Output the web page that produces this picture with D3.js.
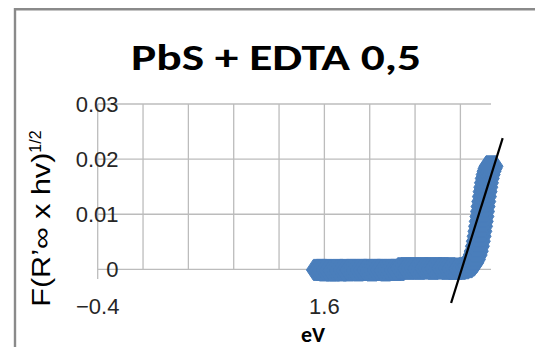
<!DOCTYPE html>
<html>
<head>
<meta charset="utf-8">
<script src="https://cdn.jsdelivr.net/npm/d3@7"></script>
<style>
body{margin:0;background:#fff;}
svg{display:block;}
</style>
</head>
<body>
<div id="chart"></div>
<script>

//width and height
var w = 535;
var h = 347;

// photon energy (eV) and F(R'inf x hv)^1/2
var eV = [1.547,1.575,1.60,1.63,1.66,1.69,1.72,1.75,1.78,1.81,1.84,1.87,1.90,1.93,1.96,
          1.99,2.02,2.05,2.08,2.11,2.14,2.17,2.20,2.23,2.26,2.29,2.32,2.35,2.38,2.41,
          2.44,2.47,2.50,2.53,2.56,2.59,2.62,2.65,2.68,2.71,2.74,2.77,2.80,2.83,
          2.86,2.88,2.90,2.915,2.93,2.94,2.95,2.958,2.965,2.972,2.978,2.984,2.99,2.995,
          3.00,3.006,3.012,3.018,3.024,3.03,3.037,3.045,3.053,3.062,3.07];
var fr = [-0.0001,-0.0001,-0.0002,-0.0001,-0.0002,-0.0002,-0.0001,-0.0002,-0.0001,-0.0002,-0.0001,-0.0001,-0.0002,-0.0001,-0.0001,
          -0.0001,-0.0002,-0.0001,-0.0001,-0.0001,-0.0002,-0.0001,-0.0001,-0.0001,-0.0001,0.0002,0.0002,0.0001,0.0002,0.0002,
          0.0001,0.0002,0.0002,0.0002,0.0001,0.0002,0.0002,0.0002,0.0001,0.0002,0.0001,0.0001,0.0001,0.0002,
          0.0004,0.0007,0.0012,0.0018,0.0026,0.0033,0.0042,0.0051,0.0060,0.0069,0.0078,0.0087,0.0096,0.0105,
          0.0114,0.0123,0.0132,0.0141,0.0149,0.0157,0.0165,0.0172,0.0178,0.0183,0.0187];

// tangent drawn by hand on the plot
var fitX = [2.718, 3.173];
var fitY = [-0.0061, 0.0238];

var yTicks = [0, 0.01, 0.02, 0.03];
var xGrid = [-0.4, 0, 0.4, 0.8, 1.2, 1.6, 2.0, 2.4, 2.8];
var xLabels = [-0.4, 1.6];

var x = d3.scaleLinear()
            .domain([-0.4, 3.07])
            .range([97.7, 491]);

var y = d3.scaleLinear()
            .domain([-0.00175, 0.03])
            .range([279, 104]);

var svg = d3.select("#chart")
            .append("svg")
            .attr("width",w)
            .attr("height",h);

// chart border (only top and left show)
svg.append("path")
    .attr("d","M15,347 L15,9.2 L535,9.2")
    .attr("fill","none")
    .attr("stroke","#8a8a8a")
    .attr("stroke-width",2.4);

// gridlines
svg.selectAll(".hgrid")
    .data(yTicks)
    .enter()
    .append("line")
    .attr("x1",x(-0.4))
    .attr("x2",x(3.07))
    .attr("y1",function(d){ return y(d); })
    .attr("y2",function(d){ return y(d); })
    .attr("stroke","#bcbcbc")
    .attr("stroke-width",1.3);

svg.selectAll(".vgrid")
    .data(xGrid.slice(1))
    .enter()
    .append("line")
    .attr("x1",function(d){ return x(d); })
    .attr("x2",function(d){ return x(d); })
    .attr("y1",y(0.03))
    .attr("y2",y(0))
    .attr("stroke","#bcbcbc")
    .attr("stroke-width",1.3);

// y axis line
svg.append("line")
    .attr("x1",x(-0.4))
    .attr("x2",x(-0.4))
    .attr("y1",y(0.03))
    .attr("y2",y(-0.00175))
    .attr("stroke","#bcbcbc")
    .attr("stroke-width",1.3);

// y tick labels
svg.selectAll(".ylab")
    .data(yTicks)
    .enter()
    .append("text")
    .attr("x",118.5)
    .attr("y",function(d){ return y(d) + 7.8; })
    .attr("text-anchor","end")
    .attr("font-family","'Liberation Sans', Arial, sans-serif")
    .attr("font-size",22)
    .attr("fill","#262626")
    .text(function(d){ return d === 0 ? "0" : d3.format(".2f")(d); });

// x tick labels
svg.selectAll(".xlab")
    .data(xLabels)
    .enter()
    .append("text")
    .attr("x",function(d){ return x(d); })
    .attr("y",314)
    .attr("text-anchor","middle")
    .attr("font-family","'Liberation Sans', Arial, sans-serif")
    .attr("font-size",22)
    .attr("fill","#262626")
    .text(function(d){ return d3.format(".1f")(d); });

// data points: flat-topped pointed markers so the dense series reads as a smooth band
var pts = eV.map(function(d,i){ return [d, fr[i]]; });
var marker = "M-12,0 L-5,-10.5 L5,-10.5 L12,0 L5,10.5 L-5,10.5 Z";

svg.selectAll(".pt")
    .data(pts)
    .enter()
    .append("path")
    .attr("d",marker)
    .attr("transform",function(d){ return "translate(" + x(d[0]) + "," + y(d[1]) + ")"; })
    .attr("fill","#4a7ebb")
    .attr("stroke","#4a7ebb")
    .attr("stroke-linejoin","round")
    .attr("stroke-width",1);

// tangent line
svg.append("line")
    .attr("x1",x(fitX[0]))
    .attr("y1",y(fitY[0]))
    .attr("x2",x(fitX[1]))
    .attr("y2",y(fitY[1]))
    .attr("stroke","#000")
    .attr("stroke-width",2.2);

// title
svg.append("text")
    .attr("x",276)
    .attr("y",70)
    .attr("text-anchor","middle")
    .attr("font-family","Carlito, Calibri, Lato, sans-serif")
    .attr("font-weight","bold")
    .attr("font-size",37)
    .attr("textLength",290)
    .attr("lengthAdjust","spacingAndGlyphs")
    .attr("fill","#000")
    .text("PbS + EDTA 0,5");

// x axis title
svg.append("text")
    .attr("x",313)
    .attr("y",342)
    .attr("text-anchor","middle")
    .attr("font-family","Carlito, Calibri, Lato, sans-serif")
    .attr("font-weight","bold")
    .attr("font-size",22)
    .attr("fill","#000")
    .text("eV");

// y axis title
var yt = svg.append("text")
    .attr("transform","translate(50,306.7) rotate(-90)")
    .attr("font-family","'Liberation Sans', Arial, sans-serif")
    .attr("font-size",25)
    .attr("fill","#000");
yt.append("tspan")
    .attr("textLength",154)
    .attr("lengthAdjust","spacingAndGlyphs")
    .text("F(R\u2019\u221e x hv)");
yt.append("tspan")
    .attr("dy",-9)
    .attr("font-size",16)
    .text("1/2");

</script>
</body>
</html>
